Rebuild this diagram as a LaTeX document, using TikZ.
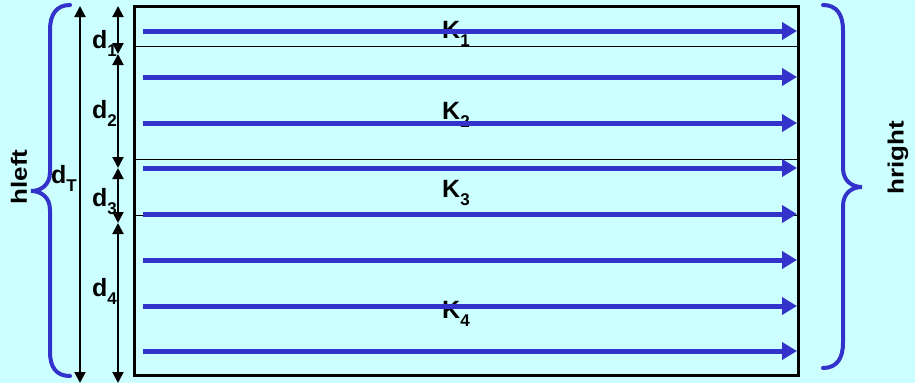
\documentclass[tikz,border=0pt]{standalone}
\usepackage{fontspec}
\setmainfont{Liberation Sans}
\usetikzlibrary{arrows.meta}
\definecolor{bgcyan}{HTML}{CCFFFF}
\definecolor{flowblue}{HTML}{3333CC}
\newcommand\lbsub[1]{\raisebox{-0.32em}{\fontsize{17}{17}\selectfont #1}}
\tikzset{
  lbl/.style={font=\fontsize{25}{25}\selectfont\bfseries, inner sep=0pt, anchor=base west},
  sidelbl/.style={font=\fontsize{26}{26}\selectfont\bfseries, rotate=90, inner sep=0pt},
  flow/.style={draw=flowblue, line width=5pt, -{Triangle[length=15pt,width=17pt]}},
  dimarrow/.style={draw=black, line width=2pt, {Triangle[length=11pt,width=11pt]}-{Triangle[length=11pt,width=11pt]}},
  bracestyle/.style={draw=flowblue, line width=4pt, line cap=round},
  thinline/.style={draw=black, line width=0.9pt},
  boxline/.style={draw=black, line width=3pt}
}
\begin{document}
\begin{tikzpicture}[x=1pt,y=-1pt]
\fill[bgcyan] (0,0) rectangle (915,383);
\useasboundingbox (0,0) rectangle (915,383);

% box corners
\coordinate (bTL) at (134,6);
\coordinate (bBR) at (798,375);

% layer separation lines
\foreach \yy/\nm in {46/s1,159/s2,215/s3}{
  \coordinate (\nm L) at (134,\yy);
  \coordinate (\nm R) at (798,\yy);
  \draw[thinline] (\nm L) -- (\nm R);
}

% labels
\node[lbl] (K1) at (442,38) {K\lbsub{1}};
\node[lbl] (K2) at (442,119) {K\lbsub{2}};
\node[lbl] (K3) at (442,197) {K\lbsub{3}};
\node[lbl] (K4) at (442,318) {K\lbsub{4}};

% flow arrows
\foreach \yy [count=\i] in {31,77,123,168,214,260,306,351}{
  \coordinate (fa\i) at (143,\yy);
  \coordinate (fb\i) at (797,\yy);
  \draw[flow] (fa\i) -- (fb\i);
}

\draw[boxline] (bTL) rectangle (bBR);

% dimension arrows
\coordinate (dTa) at (80,6);
\coordinate (dTb) at (80,383);
\draw[dimarrow] (dTa) -- (dTb);
\coordinate (d1a) at (118,6);
\coordinate (d1b) at (118,54);
\coordinate (d2a) at (118,54);
\coordinate (d2b) at (118,168);
\coordinate (d3a) at (118,168);
\coordinate (d3b) at (118,223);
\coordinate (d4a) at (118,223);
\coordinate (d4b) at (118,383);
\draw[dimarrow] (d1a) -- (d1b);
\draw[dimarrow] (d2a) -- (d2b);
\draw[dimarrow] (d3a) -- (d3b);
\draw[dimarrow] (d4a) -- (d4b);

\node[lbl] (dT) at (51,183) {d\lbsub{T}};
\node[lbl] (l1) at (92,48) {d\lbsub{1}};
\node[lbl] (l2) at (92,118) {d\lbsub{2}};
\node[lbl] (l3) at (92,206) {d\lbsub{3}};
\node[lbl] (l4) at (92,296) {d\lbsub{4}};

% braces
\draw[bracestyle] (70,5) .. controls (56,5) and (50,15) .. (50,30) -- (50,172)
  .. controls (50,185) and (41,191) .. (31,191)
  .. controls (41,191) and (50,197) .. (50,210) -- (50,352)
  .. controls (50,367) and (56,376) .. (70,376);
\draw[bracestyle] (823,5) .. controls (837,5) and (843,15) .. (843,30) -- (843,168)
  .. controls (843,181) and (852,187) .. (862,187)
  .. controls (852,187) and (843,193) .. (843,206) -- (843,343)
  .. controls (843,358) and (837,368) .. (823,368);

\node[sidelbl] (hleft) at (19,177) {\scalebox{1}[0.85]{hleft}};
\node[sidelbl] (hright) at (898,158) {\scalebox{1}[0.85]{hright}};
\end{tikzpicture}
\end{document}
